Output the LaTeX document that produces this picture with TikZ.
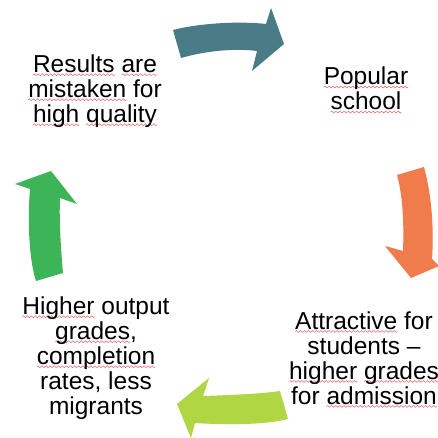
\documentclass[tikz,border=0pt]{standalone}
\usepackage{fontspec}
\setmainfont{Liberation Sans}
\definecolor{cteal}{HTML}{4A7C87}
\definecolor{corange}{HTML}{F07B4B}
\definecolor{cgreen}{HTML}{3DB458}
\definecolor{clime}{HTML}{B1D643}
\definecolor{csquig}{HTML}{E86A6A}
\newsavebox\mywavebox
\newsavebox\mywordbox
\newcommand\mymakewave{\sbox\mywavebox{\begin{pgfpicture}%
  \pgfpathmoveto{\pgfpoint{0pt}{0pt}}%
  \pgfpathsine{\pgfpoint{1pt}{0.9pt}}\pgfpathcosine{\pgfpoint{1pt}{-0.9pt}}%
  \pgfpathsine{\pgfpoint{1pt}{-0.9pt}}\pgfpathcosine{\pgfpoint{1pt}{0.9pt}}%
  \pgfsetstrokecolor{csquig}\pgfsetlinewidth{0.55pt}\pgfusepath{stroke}%
  \pgfresetboundingbox
  \pgfpathrectangle{\pgfpoint{0pt}{-1pt}}{\pgfpoint{4pt}{2pt}}\pgfusepath{use as bounding box}%
  \end{pgfpicture}}}
\newcommand\sqw[1]{\sbox\mywordbox{#1}\rlap{\raisebox{-3.2pt}[0pt][0pt]{\hbox to\wd\mywordbox{\xleaders\copy\mywavebox\hfil}}}#1}
\tikzset{
  lbl/.style={align=center, anchor=north, inner sep=0pt, font=\fontsize{24.5}{25}\selectfont, text=black},
}
\begin{document}
\begin{tikzpicture}[x=1pt,y=-1pt]
\mymakewave
\useasboundingbox (0,0) rectangle (438,437);
\clip (0,0) rectangle (438,437);
\fill[white] (0,0) rectangle (438,437);
% arrows
\fill[cteal] (173,29) .. controls (200,22) and (240,20) .. (266,23) -- (271,7) -- (284,43) -- (252,70) -- (257,50) .. controls (235,47) and (205,50) .. (181,57) -- cycle;
\fill[corange] (397,174) -- (424,166) .. controls (432,195) and (434,230) .. (432,258) -- (439,265) -- (411,277) -- (385,245) -- (403,250) .. controls (404,225) and (403,195) .. (397,174) -- cycle;
\fill[clime] (288,418) .. controls (265,424) and (225,424) .. (195,422) -- (191,437) -- (177,403) -- (209,377) -- (203,395) .. controls (230,394) and (260,393) .. (280,390) -- cycle;
\fill[cgreen] (36,280) .. controls (30,262) and (27,225) .. (30,188) -- (15,183) -- (51,170) -- (77,203) -- (60,197) .. controls (59,220) and (61,250) .. (63,272) -- cycle;
% labels
\node[lbl] (results) at (95,53.5) {\sqw{Results} \sqw{are}\\\sqw{mistaken} for\\\sqw{high} \sqw{quality}};
\node[lbl] (popular) at (366,65.8) {\sqw{Popular}\\\sqw{school}};
\node[lbl] (attract) at (364,310.2) {\sqw{Attractive} for\\students –\\\sqw{higher} \sqw{grades}\\for \sqw{admission}};
\node[lbl] (higher) at (96,295.5) {\sqw{Higher} output\\\sqw{grades},\\\sqw{completion}\\rates, less\\migrants};
\end{tikzpicture}
\end{document}
